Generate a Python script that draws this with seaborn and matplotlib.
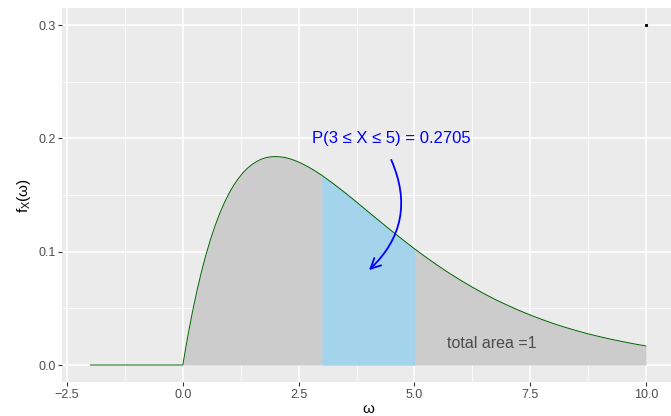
import matplotlib
matplotlib.use("Agg")
import numpy as np
import pandas as pd
import seaborn as sns
import matplotlib.pyplot as plt
from matplotlib.ticker import FixedLocator

# ---- data ----
omega = [-2.0, 0.0, 0.1, 0.2, 0.3, 0.4, 0.5, 0.6, 0.7, 0.8, 0.9, 1.0,
         1.1, 1.2, 1.3, 1.4, 1.5, 1.6, 1.7, 1.8, 1.9, 2.0,
         2.1, 2.2, 2.3, 2.4, 2.5, 2.6, 2.7, 2.8, 2.9, 3.0,
         3.25, 3.5, 3.75, 4.0, 4.25, 4.5, 4.75, 5.0, 5.25, 5.5, 5.75,
         6.0, 6.25, 6.5, 6.75, 7.0, 7.25, 7.5, 7.75, 8.0, 8.25, 8.5, 8.75,
         9.0, 9.25, 9.5, 9.75, 10.0]
density = [0.0, 0.0, 0.0238, 0.0452, 0.0646, 0.0819, 0.0974, 0.1111, 0.1233,
           0.1341, 0.1435, 0.1516,
           0.1587, 0.1646, 0.1697, 0.1738, 0.1771, 0.1797, 0.1817, 0.1830, 0.1837,
           0.1839,
           0.1837, 0.1831, 0.1821, 0.1807, 0.1791, 0.1771, 0.1750, 0.1726, 0.1701,
           0.1674,
           0.1600, 0.1521, 0.1438, 0.1353, 0.1269, 0.1186, 0.1105, 0.1026, 0.0951,
           0.0879, 0.0811, 0.0747, 0.0687, 0.0630, 0.0577, 0.0529, 0.0483, 0.0441,
           0.0402, 0.0366, 0.0333, 0.0303, 0.0275, 0.0250, 0.0227, 0.0206, 0.0186,
           0.0168]
shade_lo, shade_hi = 3.0, 5.0
prob_label = "P(3 ≤ X ≤ 5) = 0.2705"
area_label = "total area =1"
x_ticks = [-2.5, 0.0, 2.5, 5.0, 7.5, 10.0]
y_ticks = [0.0, 0.1, 0.2, 0.3]
corner_x, corner_y = [10.0], [0.3]

df = pd.DataFrame({"omega": omega, "density": density})

sns.set_theme(style="darkgrid", rc={
    "axes.facecolor": "#EBEBEB",
    "grid.color": "white",
    "axes.edgecolor": "none",
    "xtick.color": "#333333",
    "ytick.color": "#333333",
    "xtick.labelcolor": "#4D4D4D",
    "ytick.labelcolor": "#4D4D4D",
})
plt.rcParams["font.family"] = ["Liberation Sans", "DejaVu Sans"]
plt.rcParams["mathtext.fontset"] = "custom"
plt.rcParams["mathtext.rm"] = "Liberation Sans"
plt.rcParams["mathtext.it"] = "Liberation Sans"

W, H = 671, 416
fig = plt.figure(figsize=(W / 100, H / 100), dpi=100)
ax = fig.add_axes([62.4 / W, 34 / H, (673.8 - 62.4) / W, (408 - 34) / H])

x = df["omega"].to_numpy()
y = df["density"].to_numpy()
ax.fill_between(x, 0, y, where=x >= 0, color="#CCCCCC", lw=0, zorder=2)
ax.fill_between(x, 0, y, where=(x >= shade_lo) & (x <= shade_hi),
                color="#A4D3EC", lw=0, zorder=3)
sns.lineplot(data=df, x="omega", y="density", color="#006400", lw=0.7,
             ax=ax, zorder=4)
ax.plot(corner_x, corner_y, marker="s", ms=1.2, color="black", ls="none", zorder=5)

ax.text(4.5, 0.2, prob_label, color="blue", fontsize=12, ha="center", va="center",
        zorder=6)
ax.annotate("", xy=(4.02, 0.0838), xytext=(4.5, 0.181),
            arrowprops=dict(arrowstyle="->,head_length=0.6,head_width=0.3",
                            connectionstyle="arc3,rad=-0.35",
                            color="blue", lw=1.3, shrinkA=0, shrinkB=0),
            zorder=6)
ax.text(6.68, 0.019, area_label, color="#4D4D4D", fontsize=11.5, ha="center",
        va="center", zorder=6)

ax.set_xlim(-2.6, 10.6)
ax.set_ylim(-0.015, 0.315)
ax.xaxis.set_major_locator(FixedLocator(x_ticks))
ax.yaxis.set_major_locator(FixedLocator(y_ticks))
ax.xaxis.set_minor_locator(FixedLocator([t + 1.25 for t in x_ticks]))
ax.yaxis.set_minor_locator(FixedLocator([t + 0.05 for t in y_ticks]))
ax.set_xticklabels([f"{t:.1f}".replace("-", "\u2212") for t in x_ticks])
ax.set_yticklabels([f"{t:.1f}" for t in y_ticks])
ax.grid(which="major", color="white", lw=1.1)
ax.grid(which="minor", color="white", lw=0.55)
ax.tick_params(which="major", length=3, width=0.8, labelsize=9, pad=2,
               bottom=True, left=True)
ax.tick_params(which="minor", length=0, bottom=False, left=False)
for s in ax.spines.values():
    s.set_visible(False)

ax.set_xlabel("ω", fontsize=11, labelpad=1, color="black")
ax.set_ylabel(r"f$_{\mathrm{X}}$(ω)", fontsize=11, labelpad=4, color="black")

fig.savefig("out.png", dpi=100)
